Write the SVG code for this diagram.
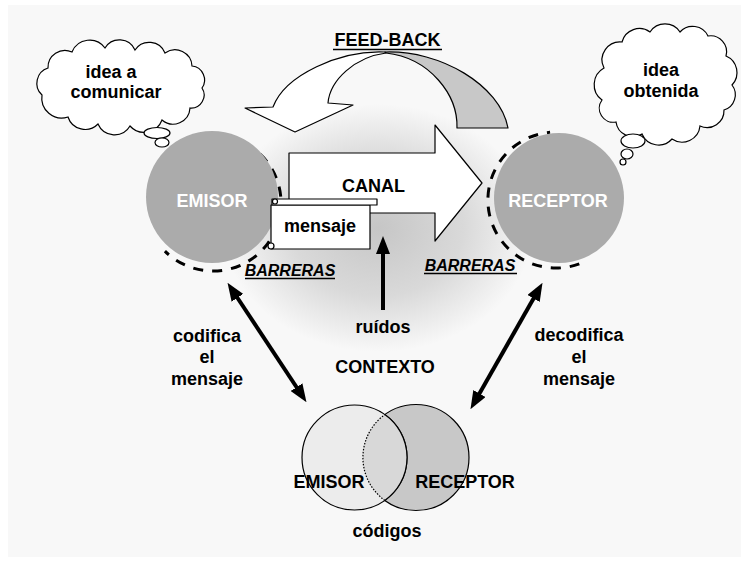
<svg xmlns="http://www.w3.org/2000/svg" width="741" height="561" viewBox="0 0 741 561">
<defs>
<radialGradient id="ctx" cx="378" cy="228" r="155" gradientUnits="userSpaceOnUse" gradientTransform="translate(378 228) scale(1 0.8) translate(-378 -228)">
<stop offset="0" stop-color="#c6c6c6"/>
<stop offset="0.55" stop-color="#d9d9d9"/>
<stop offset="1" stop-color="#f8f8f8"/>
</radialGradient>
<marker id="head" viewBox="0 0 18 14" refX="1" refY="7" markerWidth="18" markerHeight="14" markerUnits="userSpaceOnUse" orient="auto-start-reverse">
<path d="M0,0 L18,7 L0,14 Z" fill="#000"/>
</marker>
<style>
.t{font-family:"Liberation Sans",Arial,sans-serif;font-weight:bold;font-size:18px;fill:#000;text-anchor:middle}
.w{fill:#fff}
.b{font-style:italic;font-size:16px}
.ol{stroke:#000;stroke-width:1.2;stroke-linejoin:round}
.cloud{fill:#fff;stroke:#000;stroke-width:1.2}
.ring{fill:none;stroke:#000;stroke-width:3;stroke-dasharray:10 9}
.actor{fill:#ababab}
.conn{fill:none;stroke:#000;stroke-width:4}
</style>
</defs>
<rect x="0" y="0" width="741" height="561" fill="#fff"/>
<rect x="8" y="5" width="733" height="552" fill="#f8f8f8"/>
<ellipse cx="378" cy="228" rx="155" ry="124" fill="url(#ctx)"/>

<g id="feedback">
<path class="ol" fill="#c8c8c8" d="M385,52 C440,50 500,85 508,128 L457,128 C458,95 430,58 386,53 Z"/>
<path class="ol" fill="#fff" d="M385,52 C340,50 285,75 273,107 L245,108 L295,132 L353,105 L328,103 C330,80 355,57 386,53 Z"/>
<text class="t" x="387.5" y="46">FEED-BACK</text>
<line x1="333" y1="49.5" x2="442" y2="49.5" stroke="#000" stroke-width="1.5"/>
</g>

<g id="canal">
<path class="ol" fill="#fff" d="M289,153 L435,153 L435,125 L482,183 L435,241 L435,213 L289,213 Z"/>
<text class="t" x="373.5" y="192">CANAL</text>
</g>

<g id="emisor">
<path class="ring" d="M244.9,143 A68,68 0 1 1 164.9,251.1"/>
<circle class="actor" cx="212" cy="197" r="66"/>
<text class="t w" x="212" y="207">EMISOR</text>
<text class="t b" x="290" y="276">BARRERAS</text>
<line x1="245" y1="278.5" x2="335" y2="278.5" stroke="#000" stroke-width="1.3"/>
</g>

<g id="receptor">
<path class="ring" d="M579.3,263.9 A68,68 0 1 1 550.1,132.3"/>
<circle class="actor" cx="559" cy="198" r="65"/>
<text class="t w" x="558" y="207">RECEPTOR</text>
<text class="t b" x="470" y="271">BARRERAS</text>
<line x1="424" y1="273.5" x2="517" y2="273.5" stroke="#000" stroke-width="1.3"/>
</g>

<g id="mensaje">
<rect class="ol" fill="#fff" x="271" y="205" width="99" height="44"/>
<rect class="ol" fill="#fff" x="272" y="199" width="105" height="6"/>
<circle class="ol" fill="#fff" cx="275" cy="201.5" r="2.5"/>
<circle class="ol" fill="#fff" cx="271" cy="246" r="3"/>
<text class="t" x="320" y="232">mensaje</text>
</g>

<g id="idea-a-comunicar">
<path class="cloud" d="M42,95 A16,16 0 0 1 48,68 A17,17 0 0 1 72,52 A19,19 0 0 1 105,48 A17,17 0 0 1 135,50 A17,17 0 0 1 165,53 A17,17 0 0 1 192,66 A14,14 0 0 1 202,88 A13,13 0 0 1 190,108 A17,17 0 0 1 162,120 A19,19 0 0 1 130,126 A18,18 0 0 1 98,124 A18,18 0 0 1 68,117 A20,20 0 0 1 42,95 Z"/>
<ellipse class="cloud" cx="157" cy="133" rx="13" ry="5.5"/>
<ellipse class="cloud" cx="162" cy="142.5" rx="7" ry="4.5"/>
<text class="t" x="111" y="78">idea a</text>
<text class="t" x="116" y="98">comunicar</text>
</g>

<g id="idea-obtenida">
<path class="cloud" d="M602,100 A19,19 0 0 1 604,68 A18,18 0 0 1 622,42 A18,18 0 0 1 650,32 A18,18 0 0 1 680,32 A17,17 0 0 1 708,36 A16,16 0 0 1 726,56 A18,18 0 0 1 732,85 A16,16 0 0 1 724,110 A17,17 0 0 1 700,126 A18,18 0 0 1 672,139 A18,18 0 0 1 642,134 A17,17 0 0 1 616,122 A14,14 0 0 1 602,100 Z"/>
<ellipse class="cloud" cx="633" cy="141" rx="12" ry="7"/>
<ellipse class="cloud" cx="627" cy="154" rx="6" ry="5"/>
<circle class="cloud" cx="623" cy="162" r="3"/>
<text class="t" x="661" y="76">idea</text>
<text class="t" x="661" y="97">obtenida</text>
</g>

<g id="codigos">
<circle cx="416" cy="457.5" r="53" fill="#c8c8c8" stroke="#000" stroke-width="1.2"/>
<circle cx="354.5" cy="457.5" r="52.5" fill="#ececec" stroke="#000" stroke-width="1.2"/>
<path d="M384.8,414.6 A52.5,52.5 0 0 1 384.8,500.4 A53,53 0 0 1 384.8,414.6 Z" fill="#d8d8d8"/>
<path d="M384.8,414.6 A52.5,52.5 0 0 1 384.8,500.4" fill="none" stroke="#000" stroke-width="1.2"/>
<path d="M384.8,500.4 A53,53 0 0 1 384.8,414.6" fill="none" stroke="#000" stroke-width="1.2" stroke-dasharray="1.5 1.5"/>
<text class="t" x="329" y="488">EMISOR</text>
<text class="t" x="465" y="488">RECEPTOR</text>
<text class="t" x="387" y="537">códigos</text>
</g>

<g id="labels">
<text class="t" x="383" y="333">ruídos</text>
<text class="t" x="385" y="373">CONTEXTO</text>
<text class="t" x="207" y="342">codifica</text>
<text class="t" x="207" y="363">el</text>
<text class="t" x="207" y="385">mensaje</text>
<text class="t" x="579" y="341">decodifica</text>
<text class="t" x="579" y="363">el</text>
<text class="t" x="579" y="385">mensaje</text>
</g>

<g id="connectors">
<path class="conn" d="M236.9,297 L297.1,388" marker-start="url(#head)" marker-end="url(#head)"/>
<path class="conn" d="M534.1,297.6 L478.9,394.4" marker-start="url(#head)" marker-end="url(#head)"/>
<path class="conn" d="M383,310 L383,253" stroke-width="5" marker-end="url(#head)"/>
</g>
</svg>
